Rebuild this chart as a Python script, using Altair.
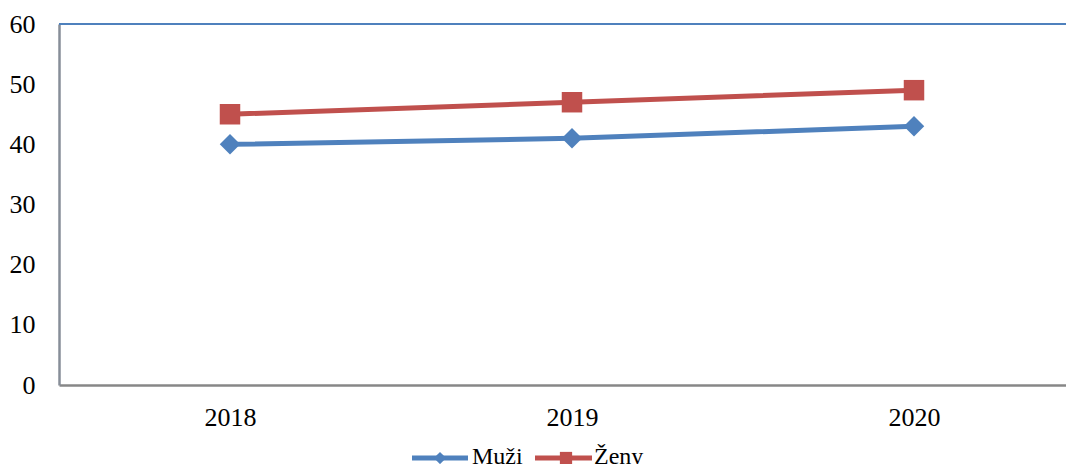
import altair as alt
import pandas as pd

years = ["2018", "2019", "2020"]
muzi = [40, 41, 43]
zeny = [45, 47, 49]
series_names = ["Muži", "Ženy"]
series_colors = ["#4f81bd", "#c0504d"]
series_shapes = ["diamond", "square"]
y_ticks = [0, 10, 20, 30, 40, 50, 60]

rows = []
for name, vals in zip(series_names, [muzi, zeny]):
    for yr, v in zip(years, vals):
        rows.append({"year": yr, "value": v, "series": name})
df = pd.DataFrame(rows)

FONT = "Liberation Serif, Times New Roman, DejaVu Serif, serif"
W = 1007
H = 361

x_enc = alt.X(
    "year:O",
    scale=alt.Scale(type="point", range=[0, 1026], padding=0.5),
    axis=alt.Axis(
        title=None, labelAngle=0, ticks=False, labelPadding=19,
        labelFontSize=26, labelFont=FONT, labelColor="black",
        domainColor="#878787", domainWidth=2.5, grid=False,
    ),
)
y_enc = alt.Y(
    "value:Q",
    scale=alt.Scale(domain=[0, 60], nice=False, zero=True),
    axis=alt.Axis(
        title=None, values=y_ticks, ticks=False, labelPadding=24,
        labelFontSize=26, labelFont=FONT, labelColor="black",
        domainColor="#878e98", domainWidth=2.5, grid=False,
    ),
)
color_enc = alt.Color(
    "series:N",
    scale=alt.Scale(domain=series_names, range=series_colors),
    legend=None,
)
shape_enc = alt.Shape(
    "series:N",
    scale=alt.Scale(domain=series_names, range=series_shapes),
    legend=None,
)

base = alt.Chart(df)
top_border = alt.Chart(pd.DataFrame({"b": [0]})).mark_rule(color="#4f81bd", strokeWidth=2).encode(
    x=alt.value(0), x2=alt.value(1026), y=alt.value(0)
)
lines = base.mark_line(strokeWidth=5).encode(x=x_enc, y=y_enc, color=color_enc, detail="series:N")
points = base.mark_point(filled=True, size=420, opacity=1).encode(
    x=x_enc, y=y_enc, color=color_enc, shape=shape_enc
)

# manual legend
legend_layers = []
legend_pos = [(353, 409, 381, 413), (476, 533, 507, 535)]
leg_y = 434
for name, col, shp, (x0, x1, xm, xt) in zip(series_names, series_colors, series_shapes, legend_pos):
    one = pd.DataFrame({"series": [name]})
    legend_layers.append(
        alt.Chart(one).mark_rule(strokeWidth=5, color=col).encode(
            x=alt.value(x0), x2=alt.value(x1), y=alt.value(leg_y)
        )
    )
    legend_layers.append(
        alt.Chart(one).mark_point(filled=True, opacity=1, size=150, shape=shp, color=col).encode(
            x=alt.value(xm), y=alt.value(leg_y)
        )
    )
    legend_layers.append(
        alt.Chart(one).mark_text(align="left", baseline="alphabetic", font=FONT, fontSize=24, color="black").encode(
            x=alt.value(xt), y=alt.value(leg_y + 6), text=alt.value(name)
        )
    )

chart = alt.layer(top_border, lines, points, *legend_layers).properties(
    width=W,
    height=H,
    autosize=alt.AutoSizeParams(type="none"),
    padding={"left": 51, "top": 16, "right": 0, "bottom": 79},
).configure_view(stroke=None).configure_axis(labelFont=FONT).configure_text(font=FONT)

chart.save("out.html", embed_options={"renderer": "svg", "actions": False})
